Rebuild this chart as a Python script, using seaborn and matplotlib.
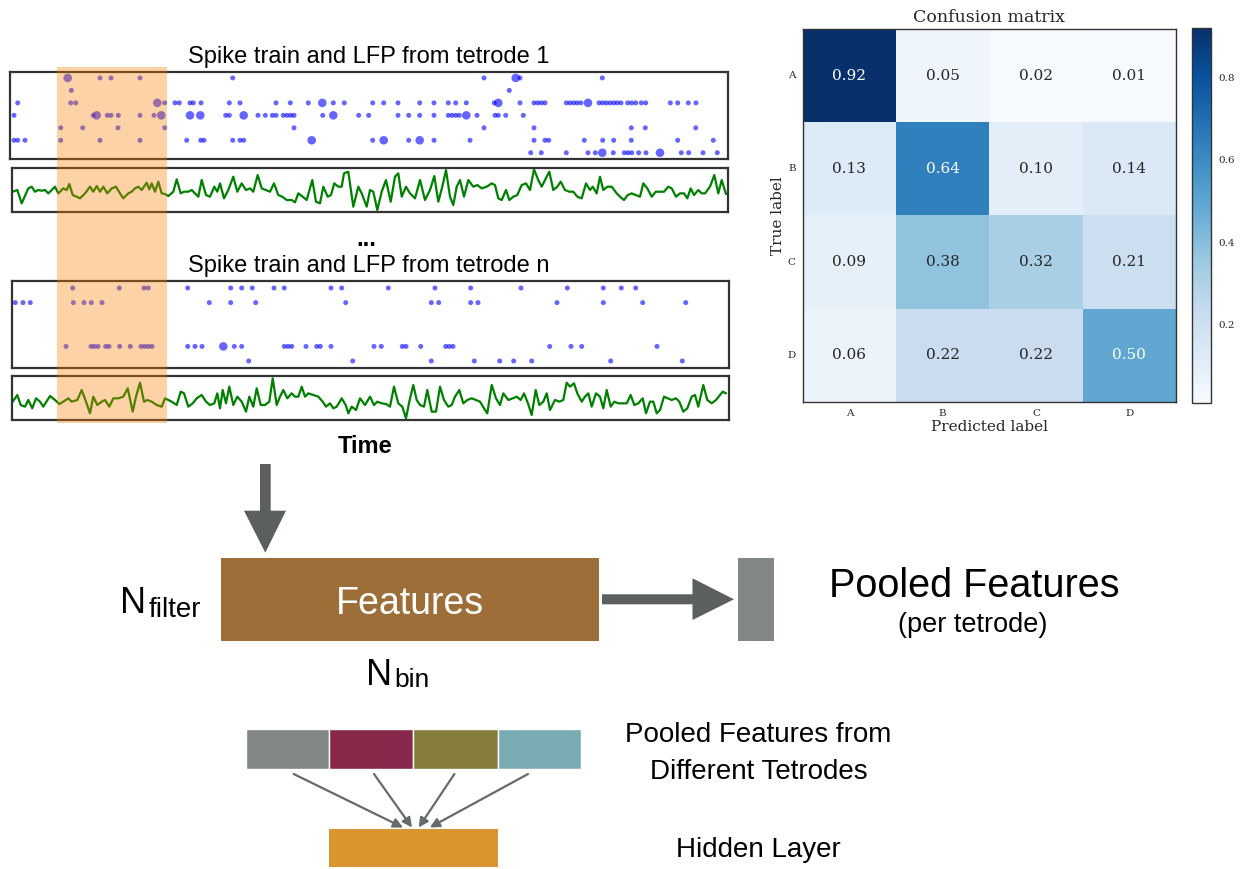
import numpy as np
import pandas as pd
import matplotlib
matplotlib.use("Agg")
import matplotlib.pyplot as plt
from matplotlib.patches import Rectangle, Polygon
import seaborn as sns

sns.set_theme(style="white")
SANS = ["Liberation Sans", "DejaVu Sans"]
SERIF = ["DejaVu Serif"]
plt.rcParams["font.family"] = SANS
plt.rcParams["text.color"] = "black"

W, H = 1241, 869

# ---------------------------------------------------------------- data
# spike times (time bins) per channel, top channel first
tet1_spikes = [
    [67.7, 100, 111, 140, 232.7, 484, 515.7, 520, 602.3],
    [71.3, 509.3],
    [17.7, 70.7, 75.7, 157.3, 164.7, 175, 179.3, 190, 193.3, 201, 229.3, 240, 276,
     290.3, 308.3, 322.3, 333.3, 344.3, 372.7, 383.7, 398, 419.7, 434, 448.3, 455.7,
     466.3, 494.3, 498.3, 520, 534, 537.7, 541.3, 545, 566.3, 570, 573.7, 577.3, 581,
     588, 599, 602.7, 606.3, 610, 613.7, 617.3, 621, 627.7, 631.7, 635.7, 641.3,
     645.7, 670.3, 677.7, 688.3, 696],
    [14, 93.3, 96.7, 107.3, 111, 118.3, 140, 154, 161.3, 190, 200.3, 225.7, 229.3,
     243.7, 258, 265.3, 272.3, 276, 283.3, 287, 290.7, 294, 322.7, 333.3, 358.7,
     368.7, 398, 408.7, 419.7, 434, 448.3, 452, 455.7, 459.3, 466.3, 477, 495, 498.3,
     505.7, 523.3],
    [60.7, 82.7, 118, 164.7, 294, 484, 534, 631.3, 645.3, 695.7],
    [14, 17.7, 25, 60.7, 100, 140, 186.7, 200.7, 204, 232.7, 240, 243.7, 311.7,
     372.7, 383.7, 408.7, 419.7, 434, 470, 534, 545, 548.7, 584.3, 602.7, 613.7,
     631.3, 677.7, 713.3],
    [530.7, 541.3, 566.3, 588, 595.3, 602.3, 613.3, 624.3, 628, 631.7, 638.7, 646,
     660, 681.3, 688.7, 703, 717.3],
]
# (channel, time) of coincident spikes drawn as larger dots
tet1_bursts = [(0, 67.7), (0, 515.7), (2, 157.3), (2, 322.3), (2, 498.3), (2, 588),
               (3, 96.7), (3, 161.3), (3, 190), (3, 200.3), (3, 243.7), (3, 333.3),
               (3, 466.3), (5, 311.7), (5, 383.7), (5, 419.7), (6, 602.3), (6, 660)]

tetn_spikes = [
    [72.7, 119.3, 144, 148.3, 187.7, 230.7, 241.7, 252.3, 274, 284.3, 331, 341.7,
     388.3, 435, 470.7, 521, 567.3, 603.3, 621.3, 635.7],
    [15.3, 23, 30.3, 73.3, 84, 91.3, 102, 209.3, 230.7, 255.7, 345.7, 431.3, 438.7,
     470.7, 478, 557, 603.3, 642.7, 685.7],
    [],
    [],
    [66, 91, 94.3, 98, 105.7, 109, 119.7, 130.3, 141, 144.7, 148.3, 152, 187.7, 195,
     202, 223.3, 234.3, 241.7, 284.3, 288, 291.7, 306, 316.7, 320.3, 331, 374, 381.3,
     402.3, 406, 420.7, 445.7, 449.3, 453, 549.7, 571, 581.7, 657],
    [248.7, 352.7, 431.3, 474.3, 499.7, 513.7, 531.7, 610.7, 682.3],
]
tetn_bursts = [(4, 223.3)]

# local field potential traces
lfp1_time = [
    12.7, 17.3, 21.7, 28.3, 31.7, 35.0, 38.3, 41.7, 45.0, 48.3, 55.0, 58.3, 63.3, 66.7,
    69.3, 72.7, 76.7, 80.0, 85.0, 90.0, 93.3, 96.7, 100.0, 103.3, 107.3, 111.7, 116.0,
    120.0, 123.3, 128.3, 131.7, 135.0, 138.3, 141.7, 146.7, 149.3, 151.7, 155.0, 158.3,
    161.7, 165.0, 168.3, 173.3, 176.7, 180.7, 184.0, 188.3, 191.7, 195.0, 198.3, 201.7,
    206.0, 210.0, 214.3, 217.3, 220.0, 224.0, 228.3, 233.3, 237.3, 241.7, 246.0, 250.0,
    253.3, 257.7, 261.7, 266.0, 270.0, 274.0, 278.3, 282.3, 286.7, 291.7, 295.0, 298.3,
    302.7, 306.7, 312.3, 316.0, 320.0, 323.3, 327.7, 331.0, 334.3, 338.3, 341.7, 344.0,
    348.3, 353.3, 358.3, 361.7, 366.7,
    370.0, 373.3, 377.3, 381.7, 386.0, 390.7, 395.0, 398.3, 401.7, 406.0, 410.0, 415.0,
    420.0, 425.0, 430.0, 434.3, 438.3, 442.3, 446.0, 450.0, 453.3, 456.7, 460.0, 464.0,
    468.3, 473.3, 477.3, 481.7, 486.7, 491.7, 495.0, 498.3, 501.7, 506.0, 509.3, 513.3,
    517.3, 521.7, 526.0, 530.0, 534.0, 538.3, 541.7, 545.0, 549.3, 553.3, 557.3, 560.7,
    565.0, 569.3, 573.3, 577.3, 581.7, 586.0, 590.0, 592.7, 596.7, 600.0, 603.3, 607.3,
    611.7, 616.7, 620.0, 624.0, 627.7, 631.7, 635.7, 640.0, 643.3, 647.3, 651.7, 655.7,
    660.0, 664.0, 668.3, 671.7, 676.0, 680.0, 684.0, 687.3, 690.7, 694.0, 698.3, 701.7,
    705.0, 710.0, 714.3, 718.3, 721.7, 726.0]
lfp1_amp = [
    -5, 0, -40, 5, 10, -5, 0, -2, 0, -10, 10, -10, 5, 0, 18, -15, -20, -25, -10, 10, -5,
    12, -5, 10, -10, 5, 10, -10, -25, -10, -5, 5, 10, 0, 22, 2, 20, -5, 25, -10, -12, -18,
    -5, 32, -10, -5, -5, 0, -10, -20, 30, -15, -20, 10, -5, 20, -25, 0, 40, -5, 20, 0, 5,
    -5, 45, 5, 0, -5, 20, -15, -20, -30, -30, -37, -10, -20, -30, 30, -35, -40, 10, -20,
    -15, 20, 10, 10, 50, 55, -50, 10, -10, -50,
    0, -5, -60, -5, 30, -35, 40, 50, -20, 10, -10, -25, 30, -30, 0, 42, -35, 10, 60, -20,
    -45, 10, 30, -20, 30, 10, 15, 5, 10, 20, 15, -25, -30, 0, -30, -20, -15, 15, 20, 0,
    62, 30, 10, 30, 55, 0, 10, 25, 0, -5, -5, -20, -25, 20, 0, 10, -10, 40, 0, 10, 10,
    -10, -20, -30, -15, -10, -15, -20, 20, 5, -20, -5, -5, -5, 10, 5, -20, -10, -10, -25,
    5, -15, 0, -10, -10, 10, 45, -10, 30, -12]

lfpn_time = [
    12.7, 17.3, 20.7, 25.0, 28.3, 32.3, 36.0, 40.0, 43.3, 50.0, 55.0, 59.3, 63.3, 68.3,
    71.7, 77.3, 81.7, 86.0, 90.0, 93.3, 97.3, 101.7, 105.0, 109.3, 113.3, 118.3, 123.3,
    127.7, 132.7, 136.0, 140.0, 144.0, 147.3, 151.7, 156.7, 161.7, 165.0, 168.3, 171.7,
    176.7, 180.7, 184.0, 188.3, 192.7, 196.7, 201.7, 206.0, 210.0, 214.3, 217.3, 220.0,
    222.7, 226.0, 229.3, 233.3, 237.3, 241.7, 246.0, 249.3, 253.3, 256.7, 260.7, 265.0,
    269.3, 272.7, 276.7, 280.0, 283.3, 287.3, 291.7, 295.0, 298.3, 301.7, 305.0, 308.3,
    313.3, 318.3, 322.7, 326.0, 330.0, 333.3, 336.7, 341.7, 345.7, 348.3, 351.7, 356.0,
    360.0, 365.0,
    370.0, 374.0, 377.3, 381.7, 386.0, 390.0, 394.0, 398.3, 402.3, 406.0, 409.3, 413.3,
    416.7, 420.0, 424.0, 427.3, 431.7, 436.0, 440.0, 444.0, 448.3, 451.7, 455.0, 459.3,
    463.3, 467.3, 471.7, 476.0, 480.0, 484.0, 487.3, 491.7, 496.0, 500.0, 503.3, 508.3,
    512.7, 516.7, 520.7, 524.0, 528.0, 531.7, 535.7, 539.3, 543.3, 546.7, 550.0, 555.0,
    559.3, 563.3, 566.7, 570.0, 574.0, 577.3, 581.7, 585.0, 588.3, 591.7, 596.0, 600.0,
    603.3, 606.7, 610.7, 614.3, 618.3, 622.7, 626.7, 630.7, 634.3, 638.3, 642.7, 646.0,
    650.0, 653.3, 656.7, 660.0, 664.0, 667.7, 671.7, 676.0, 679.3, 683.3, 687.3, 691.7,
    695.0, 698.3, 703.3, 707.3, 711.7, 716.0, 720.0, 722.7, 726.0]
lfpn_amp = [
    -5, 15, -15, -20, 0, -25, 5, -5, -20, 12, 0, -12, -5, 5, -5, 0, 30, -5, -40, 10, -15,
    -5, 0, -20, 5, 5, 10, 35, -35, 10, 52, -5, 0, -5, -15, -20, 5, 0, -5, -15, 25, 20,
    -20, -10, 5, 15, -5, -15, -10, 20, -25, 30, -10, 40, -15, 10, -5, -35, 10, -20, 35,
    -15, -15, -5, 65, -15, 10, 30, 5, 20, 10, 10, 40, 10, 20, 15, 10, -5, -20, -10, -25,
    -20, 5, -15, -40, -20, -30, 5, -15,
    10, -15, -5, -10, -12, -20, 40, -10, -20, -55, -5, 45, 0, -15, -20, 30, -35, -35, 40,
    0, -20, -15, 10, 30, -10, 0, 5, 0, -5, -25, -40, 45, 5, -15, 20, 0, 5, 10, 0, 20,
    -10, -45, 30, -15, -5, 20, -30, 0, -5, 0, 52, 40, 50, 20, -5, 10, 20, -20, 20, 10,
    -25, 30, -20, -5, -10, -10, -10, 15, -15, -10, 5, -40, -5, -5, -40, -30, 10, 5, 0, 5,
    -5, -35, -25, 10, 15, -20, 45, 0, -10, 0, 15, 25, 20]

# classifier confusion matrix (row-normalised)
class_labels = ["A", "B", "C", "D"]
confusion = [
    [0.92, 0.05, 0.02, 0.01],
    [0.13, 0.64, 0.10, 0.14],
    [0.09, 0.38, 0.32, 0.21],
    [0.06, 0.22, 0.22, 0.50],
]

# ---------------------------------------------------------------- figure
fig = plt.figure(figsize=(W / 100, H / 100), dpi=100)


def px_axes(x0, y0, x1, y1, **kw):
    return fig.add_axes([x0 / W, 1 - y1 / H, (x1 - x0) / W, (y1 - y0) / H], **kw)


def frame(ax, color="#333333", lw=1.6):
    ax.set_xticks([])
    ax.set_yticks([])
    ax.set_xlabel("")
    ax.set_ylabel("")
    for s in ax.spines.values():
        s.set_visible(True)
        s.set_color(color)
        s.set_linewidth(lw)


def spike_frame(rows, bursts):
    recs = []
    for ch, times in enumerate(rows):
        for t in times:
            recs.append((t, ch, "burst" if (ch, t) in bursts else "single"))
    return pd.DataFrame(recs, columns=["time", "channel", "kind"])


def raster(box, rows, bursts):
    ax = px_axes(*box)
    df = spike_frame(rows, set(bursts))
    sns.scatterplot(data=df, x="time", y="channel", size="kind",
                    sizes={"single": 13, "burst": 38}, color="blue", alpha=0.6,
                    linewidth=0, legend=False, ax=ax)
    ax.set_xlim(box[0], box[2])
    ax.set_ylim(len(rows) - 0.5, -0.5)
    frame(ax)
    return ax


def lfp(box, t, v, ylim):
    ax = px_axes(*box)
    sns.lineplot(x=t, y=v, color="green", linewidth=1.6, ax=ax)
    ax.set_xlim(box[0], box[2])
    ax.set_ylim(*ylim)
    frame(ax)
    return ax


raster((10, 71.7, 728, 159), tet1_spikes, tet1_bursts)
lfp((12, 167.7, 728, 211.7), lfp1_time, lfp1_amp, (-65, 67))
raster((12, 280.7, 729, 368.3), tetn_spikes, tetn_bursts)
lfp((12, 376, 729, 420), lfpn_time, lfpn_amp, (-60, 72))

# confusion matrix
cm_df = pd.DataFrame(confusion, index=class_labels, columns=class_labels)
ax_cm = px_axes(802.7, 29.3, 1176, 401.7)
ax_cb = px_axes(1192.3, 27.7, 1211, 403.3)
sns.heatmap(cm_df, annot=True, fmt=".2f", cmap="Blues", ax=ax_cm, cbar_ax=ax_cb,
            annot_kws={"size": 11, "family": SERIF})
for s in ax_cm.spines.values():
    s.set_visible(True)
    s.set_color("#333333")
    s.set_linewidth(1.0)
ax_cm.set_xticklabels(class_labels, fontsize=7.5, family=SERIF, color="#262626")
ax_cm.set_yticklabels(class_labels, fontsize=7.5, family=SERIF, color="#262626",
                      rotation=0)
ax_cm.tick_params(length=0, pad=5)
ax_cm.set_title("Confusion matrix", family=SERIF, fontsize=12.5, color="#262626",
                pad=5)
ax_cm.set_xlabel("Predicted label", family=SERIF, fontsize=11, color="#262626",
                 labelpad=2)
ax_cm.set_ylabel("True label", family=SERIF, fontsize=11, color="#262626",
                 labelpad=2)
cb = ax_cm.collections[0].colorbar
cb.outline.set_linewidth(1.0)
cb.outline.set_edgecolor("#333333")
cb.set_ticks([0.2, 0.4, 0.6, 0.8])
ax_cb.tick_params(length=0, labelsize=7.5, pad=5, labelcolor="#262626")
for lab in ax_cb.get_yticklabels():
    lab.set_family(SERIF)

# ---------------------------------------------------------------- schematic
cv = fig.add_axes([0, 0, 1, 1], zorder=10)
cv.set_xlim(0, W)
cv.set_ylim(H, 0)
cv.axis("off")
cv.patch.set_alpha(0)

# analysis window over both tetrodes
cv.add_patch(Rectangle((57, 67), 109.7, 356, facecolor="#F97E00", alpha=0.35, lw=0))

cv.text(368.3, 63.5, "Spike train and LFP from tetrode 1", ha="center", va="baseline",
        fontsize=17, family=SANS)
cv.text(366, 246, "...", ha="center", va="baseline", fontsize=17, fontweight="bold",
        family=SANS)
cv.text(368.3, 271.7, "Spike train and LFP from tetrode n", ha="center",
        va="baseline", fontsize=17, family=SANS)
cv.text(365.5, 453.3, "Time", ha="center", va="baseline", fontsize=17,
        fontweight="bold", family=SANS)

arrow_c = "#5b5f5d"
cv.add_patch(Polygon([(260, 464), (270.7, 464), (270.7, 510.7), (286, 510.7),
                      (265.3, 552.7), (244, 510.7), (260, 510.7)],
                     closed=True, facecolor=arrow_c, lw=0))

cv.add_patch(Rectangle((220.7, 558), 378.6, 82.7, facecolor="#9e6e39", lw=0))
cv.text(409.8, 614, "Features", ha="center", va="baseline", fontsize=27,
        color="white", family=SANS)
cv.text(146, 613.3, "N", ha="right", va="baseline", fontsize=26, family=SANS)
cv.text(201, 616.7, "filter", ha="right", va="baseline", fontsize=20, family=SANS)
cv.text(366, 685, "N", ha="left", va="baseline", fontsize=26, family=SANS)
cv.text(394, 686.7, "bin", ha="left", va="baseline", fontsize=19, family=SANS)

cv.add_patch(Polygon([(602, 594.3), (692.5, 594.3), (692.5, 578.3), (734, 599.3),
                      (692.5, 620), (692.5, 604.3), (602, 604.3)],
                     closed=True, facecolor=arrow_c, lw=0))
cv.add_patch(Rectangle((737.5, 558.3), 36, 82.4, facecolor="#818784", lw=0))
cv.text(974, 596.7, "Pooled Features", ha="center", va="baseline", fontsize=28.5,
        family=SANS)
cv.text(973, 632, "(per tetrode)", ha="center", va="baseline", fontsize=19.5,
        family=SANS)

block_x = [245.9, 329.4, 413.3, 497.7, 580.7]
block_c = ["#818784", "#88294b", "#867d3b", "#7aabb3"]
for i, c in enumerate(block_c):
    cv.add_patch(Rectangle((block_x[i], 729.3), block_x[i + 1] - block_x[i], 40,
                           facecolor=c, edgecolor="white", lw=1))
cv.add_patch(Rectangle((329.4, 829), 168.3, 38.3, facecolor="#d9962f", lw=0))
for (x0, x1) in [(293.7, 403), (374, 412), (454.4, 418.7), (528, 429.8)]:
    cv.annotate("", xy=(x1, 827.5), xytext=(x0, 774),
                arrowprops=dict(arrowstyle="-|>", color="#666a68", lw=1.6,
                                mutation_scale=14, shrinkA=0, shrinkB=0))
cv.text(758.6, 735, "Pooled Features from", ha="center", va="center", fontsize=20,
        family=SANS)
cv.text(758.6, 771.7, "Different Tetrodes", ha="center", va="center", fontsize=20,
        family=SANS)
cv.text(758.6, 850, "Hidden Layer", ha="center", va="center", fontsize=20,
        family=SANS)

fig.savefig("out.png", dpi=100)
